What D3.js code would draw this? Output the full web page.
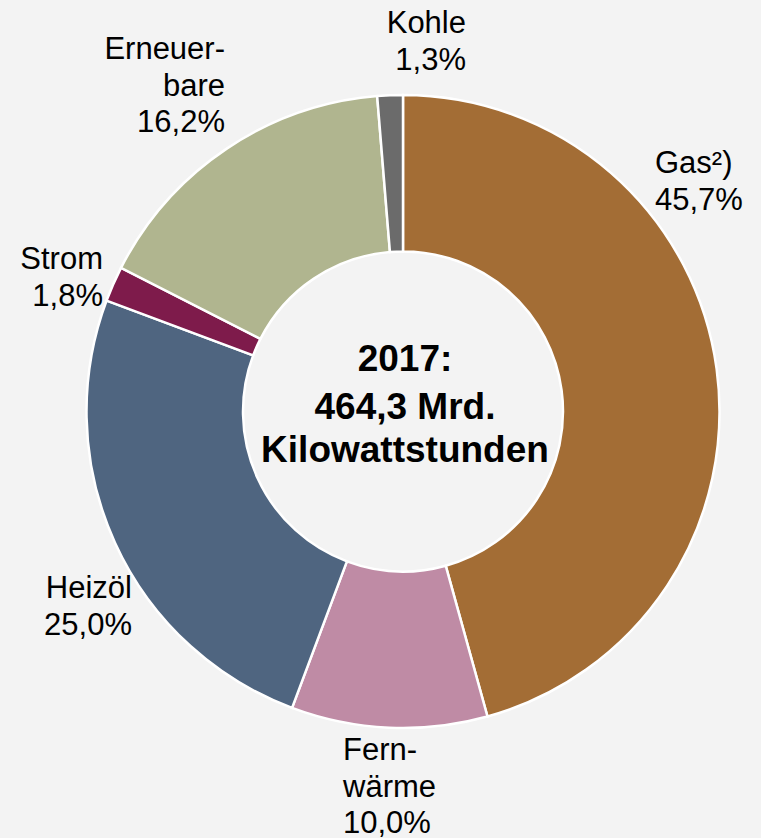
<!DOCTYPE html>
<html>
<head>
<meta charset="utf-8">
<script src="https://cdn.jsdelivr.net/npm/d3@7"></script>
<style>
  html, body { margin: 0; padding: 0; background: #f3f3f3; }
  svg { display: block; }
  text { font-family: "Liberation Sans", Arial, sans-serif; fill: #000; }
</style>
</head>
<body>
<div id="chart"></div>
<script>
// ---- data ----
const categories = ["Gas²)", "Fernwärme", "Heizöl", "Strom", "Erneuerbare", "Kohle"];
const shares = [45.7, 10.0, 25.0, 1.8, 16.2, 1.3];
const labelLines = [["Gas²)"], ["Fern-", "wärme"], ["Heizöl"], ["Strom"], ["Erneuer-", "bare"], ["Kohle"]];
const centerLines = ["2017:", "464,3 Mrd.", "Kilowattstunden"];
const colors = ["#a36d35", "#bf8ba5", "#4f6580", "#7e1b4b", "#b0b58f", "#6b6b6b"];

// ---- layout ----
const W = 761, H = 838;
const cx = 403, cy = 411.5, R = 316.5, r = 160;
// label anchor: x, first baseline, text-anchor
const labelLayout = [
  {x: 655, y: 173, anchor: "start"},
  {x: 343, y: 760, anchor: "start"},
  {x: 132, y: 598, anchor: "end"},
  {x: 103, y: 269, anchor: "end"},
  {x: 225, y: 59, anchor: "end"},
  {x: 466, y: 33, anchor: "end"}
];
const lineH = 36.5;
const fmt = v => d3.format(".1f")(v).replace(".", ",") + "%";

const svg = d3.select("#chart").append("svg").attr("width", W).attr("height", H);
svg.append("rect").attr("width", W).attr("height", H).attr("fill", "#f3f3f3");

const data = categories.map((c, i) => ({cat: c, value: shares[i], i}));
const pie = d3.pie().value(d => d.value).sort(null);
const arc = d3.arc().innerRadius(r).outerRadius(R);

const g = svg.append("g").attr("transform", `translate(${cx},${cy})`);
g.selectAll("path").data(pie(data)).join("path")
  .attr("d", arc)
  .attr("fill", d => colors[d.data.i])
  .attr("stroke", "#ffffff")
  .attr("stroke-width", 2.5)
  .attr("stroke-linejoin", "miter");

// labels
data.forEach((d, i) => {
  const L = labelLayout[i];
  const lines = labelLines[i].concat([fmt(d.value)]);
  const t = svg.append("text")
    .attr("text-anchor", L.anchor)
    .attr("font-size", 31);
  lines.forEach((s, k) => {
    t.append("tspan").attr("x", L.x).attr("y", L.y + k * lineH).text(s);
  });
});

// center text
const ct = svg.append("text").attr("text-anchor", "middle")
  .attr("font-size", 37).attr("font-weight", "bold");
const cBase = [371, 419, 462];
centerLines.forEach((s, k) => {
  ct.append("tspan").attr("x", cx + 2).attr("y", cBase[k]).text(s);
});
</script>
</body>
</html>
